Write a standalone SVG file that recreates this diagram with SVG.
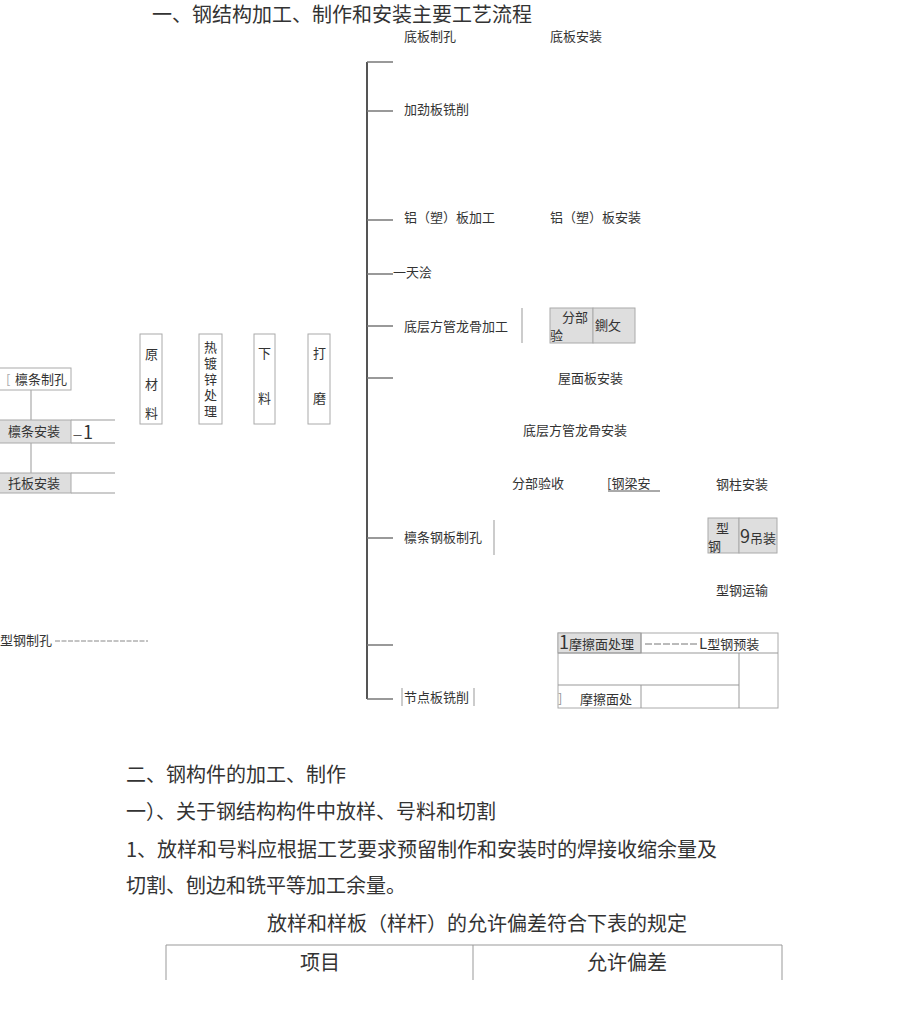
<svg xmlns="http://www.w3.org/2000/svg" width="920" height="1017" viewBox="0 0 920 1017">
<style>
text{font-family:"Noto Sans CJK SC","Noto Sans",sans-serif;fill:#333}
.s{font-size:13px}
.b{font-size:20px}
.v{writing-mode:vertical-rl}
.ln{stroke:#999;stroke-width:1;fill:none}
.tick{stroke:#777;stroke-width:1.5;fill:none}
.box{fill:#fff;stroke:#aaa;stroke-width:1}
.gray{fill:#dedede;stroke:#aaa;stroke-width:1}
</style>
<rect width="920" height="1017" fill="#fff"/>
<text class="b" x="152" y="21.5">一、钢结构加工、制作和安装主要工艺流程</text>

<g id="connectors">
<line x1="367" y1="62" x2="367" y2="699" stroke="#555" stroke-width="2"/>
<line class="tick" x1="367" y1="62" x2="393" y2="62"/>
<line class="tick" x1="367" y1="111" x2="393" y2="111"/>
<line class="tick" x1="367" y1="220" x2="393" y2="220"/>
<line class="tick" x1="367" y1="274" x2="393" y2="274"/>
<line class="tick" x1="367" y1="326" x2="393" y2="326"/>
<line class="tick" x1="367" y1="378" x2="393" y2="378"/>
<line class="tick" x1="367" y1="538" x2="393" y2="538"/>
<line class="tick" x1="367" y1="645" x2="393" y2="645"/>
<line class="tick" x1="367" y1="699" x2="393" y2="699"/>
<line class="ln" x1="522" y1="308" x2="522" y2="343"/>
<line class="ln" x1="494" y1="520" x2="494" y2="555"/>
<line class="ln" x1="31" y1="390" x2="31" y2="420"/>
<line class="ln" x1="31" y1="443" x2="31" y2="473"/>
<line class="ln" x1="71" y1="420" x2="115" y2="420"/>
<line class="ln" x1="71" y1="443" x2="115" y2="443"/>
<line class="ln" x1="71" y1="473" x2="115" y2="473"/>
<line class="ln" x1="71" y1="493" x2="115" y2="493"/>
<line x1="55" y1="641" x2="148" y2="641" stroke="#888" stroke-width="1" stroke-dasharray="5,1.5"/>
</g>

<g id="n-dibanzhikong"><text class="s" x="404" y="41">底板制孔</text></g>
<g id="n-dibananzhuang"><text class="s" x="550" y="41">底板安装</text></g>
<g id="n-jiajinban"><text class="s" x="404" y="114">加劲板铣削</text></g>
<g id="n-lvbanjiagong"><text class="s" x="404" y="222">铝（塑）板加工</text></g>
<g id="n-lvbananzhuang"><text class="s" x="550" y="222">铝（塑）板安装</text></g>
<g id="n-tianhui"><text class="s" x="393" y="277">一天浍</text></g>
<g id="n-dicengjiagong"><text class="s" x="404" y="331">底层方管龙骨加工</text></g>
<g id="n-fenbuyan">
<rect class="gray" x="550" y="308" width="43" height="35"/>
<rect class="gray" x="593" y="308" width="42" height="35"/>
<text class="s" x="562" y="322">分部</text>
<text class="s" x="550" y="340">验</text>
<text class="s" x="595" y="330">鍘攵</text>
</g>
<g id="n-wumianban"><text class="s" x="558" y="383">屋面板安装</text></g>
<g id="n-dicenganzhuang"><text class="s" x="523" y="435">底层方管龙骨安装</text></g>
<g id="n-fenbuyanshou"><text class="s" x="512" y="488">分部验收</text></g>
<g id="n-gangliang">
<text class="s" x="607" y="488">[钢梁安</text>
<line x1="608" y1="491" x2="660" y2="491" stroke="#555" stroke-width="1"/>
</g>
<g id="n-gangzhu"><text class="s" x="716" y="489">钢柱安装</text></g>
<g id="n-lintiaogangban"><text class="s" x="404" y="542">檩条钢板制孔</text></g>
<g id="n-xinggangdiaozhuang">
<rect class="gray" x="708" y="518" width="31" height="35"/>
<rect class="gray" x="739" y="518" width="38" height="35"/>
<text class="s" x="716" y="533">型</text>
<text class="s" x="708" y="551">钢</text>
<text class="s" x="740" y="543"><tspan style="font-size:18px">9</tspan>吊装</text>
</g>
<g id="n-xinggangyunshu"><text class="s" x="716" y="595">型钢运输</text></g>
<g id="n-mocamian">
<rect class="box" x="558" y="633" width="220" height="75"/>
<rect class="gray" x="558" y="633" width="83" height="20"/>
<line class="ln" x1="641" y1="633" x2="641" y2="653"/>
<line class="ln" x1="558" y1="653" x2="778" y2="653"/>
<line class="ln" x1="558" y1="685" x2="739" y2="685"/>
<line class="ln" x1="739" y1="653" x2="739" y2="708"/>
<line class="ln" x1="641" y1="685" x2="641" y2="708"/>
<text class="s" x="559" y="649"><tspan style="font-size:18px">1</tspan>摩擦面处理</text>
<line x1="645" y1="644" x2="698" y2="644" stroke="#777" stroke-width="1" stroke-dasharray="7,2"/>
<text class="s" x="699" y="649"><tspan style="font-size:15px">L</tspan>型钢预装</text>
<text class="s" x="558" y="703" style="fill:#999">]</text>
<text class="s" x="580" y="704">摩擦面处</text>
</g>
<g id="n-jiedianban">
<line class="ln" x1="402" y1="688" x2="402" y2="706"/>
<line class="ln" x1="474" y1="688" x2="474" y2="706"/>
<text class="s" x="404" y="702">节点板铣削</text>
</g>

<g id="n-yuancailiao">
<rect class="box" x="140" y="334" width="22" height="90"/>
<text class="s" x="145" y="359">原<tspan x="145" dy="30">材</tspan><tspan x="145" dy="29">料</tspan></text>
</g>
<g id="n-redu">
<rect class="box" x="199" y="334" width="23" height="90"/>
<text class="s v" x="210.5" y="341" letter-spacing="3">热镀锌处理</text>
</g>
<g id="n-xialiao">
<rect class="box" x="254" y="334" width="21" height="90"/>
<text class="s" x="258" y="358">下<tspan x="258" dy="45">料</tspan></text>
</g>
<g id="n-damo">
<rect class="box" x="308" y="334" width="22" height="90"/>
<text class="s" x="313" y="358">打<tspan x="313" dy="45">磨</tspan></text>
</g>

<g id="n-lintiaozhikong">
<rect class="box" x="-1" y="368" width="72" height="22"/>
<text class="s" x="6" y="384"><tspan style="fill:#aaa">[</tspan><tspan x="15">檩条制孔</tspan></text>
</g>
<g id="n-lintiaoanzhuang">
<rect class="gray" x="-1" y="420" width="72" height="23"/>
<text class="s" x="8" y="436">檩条安装</text>
<text class="s" x="73" y="439"><tspan style="font-size:9px">一</tspan><tspan dx="1" style="font-size:18px">1</tspan></text>
</g>
<g id="n-tuoban">
<rect class="gray" x="-1" y="473" width="72" height="20"/>
<text class="s" x="8" y="488">托板安装</text>
</g>
<g id="n-xinggangzhikong"><text class="s" x="0" y="645">型钢制孔</text></g>

<g id="body">
<text class="b" x="126" y="782">二、钢构件的加工、制作</text>
<text class="b" x="126" y="819">一）、关于钢结构构件中放样、号料和切割</text>
<text class="b" x="126" y="857">1、放样和号料应根据工艺要求预留制作和安装时的焊接收缩余量及</text>
<text class="b" x="126" y="893">切割、刨边和铣平等加工余量。</text>
<text class="b" x="267" y="931">放样和样板（样杆）的允许偏差符合下表的规定</text>
<line class="ln" x1="166" y1="945" x2="782" y2="945"/>
<line class="ln" x1="166" y1="945" x2="166" y2="980"/>
<line class="ln" x1="473" y1="945" x2="473" y2="980"/>
<line class="ln" x1="782" y1="945" x2="782" y2="980"/>
<text class="b" x="320" y="970" text-anchor="middle">项目</text>
<text class="b" x="627" y="970" text-anchor="middle">允许偏差</text>
</g>
</svg>
